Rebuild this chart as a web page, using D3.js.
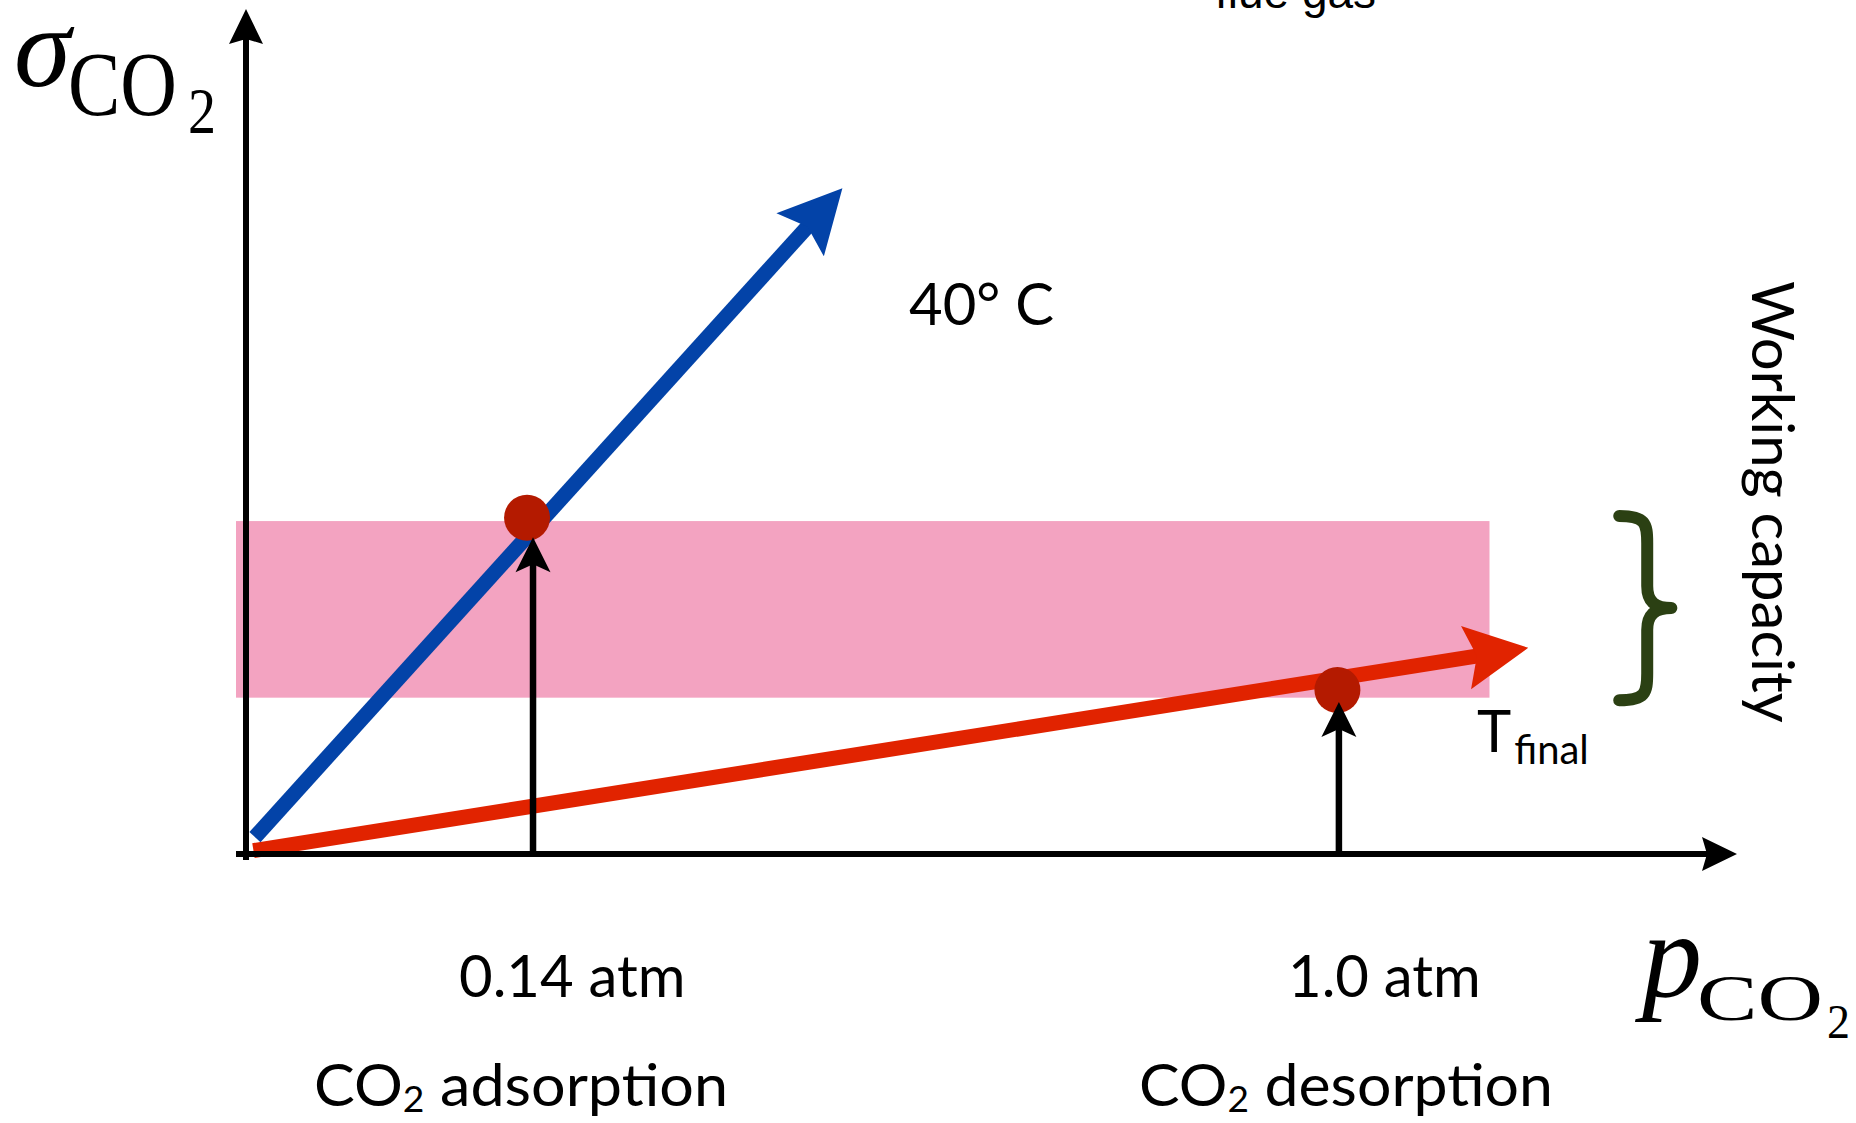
<!DOCTYPE html>
<html><head><meta charset="utf-8">
<script src="https://cdn.jsdelivr.net/npm/d3@7"></script>
<style>html,body{margin:0;padding:0;background:#fff;overflow:hidden}</style>
</head><body>
<svg id="chart" width="1856" height="1123"></svg>
<script>
// ---- schematic data (abstract units 0–100 on both axes) ----
const isothermNames  = ["40° C", "T_final"];
const isothermStart  = [[0.6, 2.0], [0.5, 0.4]];
const isothermEnd    = [[40.0, 78.8], [86.0, 24.4]];
const isothermColors = ["#0343a8", "#e12300"];
const pressureLabels = ["0.14 atm", "1.0 atm"];
const processLabels  = ["adsorption", "desorption"];
const pressureX      = [19.25, 73.3];
const uptakeArrowTip = [37.5, 18.0];
const stateX         = [18.85, 73.2];
const stateY         = [39.8, 19.4];
const bandX          = [-0.67, 83.4];
const bandY          = [18.5, 39.4];
const braceX         = [92.1, 96.0];
const braceY         = [17.6, 40.6];
const axisStart      = [-0.67, -0.7];
const axisEnd        = [100, 100];

const svg = d3.select("#chart");
const x = d3.scaleLinear().domain([0, 100]).range([246, 1737]);
const y = d3.scaleLinear().domain([0, 100]).range([854, 9]);

function arrow(g, x1, y1, x2, y2, color, sw, L, W, notch) {
  const dx = x2 - x1, dy = y2 - y1, len = Math.hypot(dx, dy);
  const ux = dx / len, uy = dy / len;
  const back = L - notch - 1;
  g.append("line")
    .attr("x1", x1).attr("y1", y1)
    .attr("x2", x2 - ux * back).attr("y2", y2 - uy * back)
    .attr("stroke", color).attr("stroke-width", sw);
  const ang = Math.atan2(dy, dx) * 180 / Math.PI;
  g.append("path")
    .attr("d", `M0,0 L${-L},${-W/2} L${-L+notch},0 L${-L},${W/2} Z`)
    .attr("fill", color)
    .attr("transform", `translate(${x2},${y2}) rotate(${ang})`);
}

// pink working-capacity band
svg.append("rect")
  .attr("x", x(bandX[0])).attr("y", y(bandY[1]))
  .attr("width", x(bandX[1]) - x(bandX[0]))
  .attr("height", y(bandY[0]) - y(bandY[1]))
  .attr("fill", "#f3a3c1");

// isotherms
const iso = svg.append("g");
isothermNames.forEach((n, i) => {
  arrow(iso, x(isothermStart[i][0]), y(isothermStart[i][1]),
        x(isothermEnd[i][0]), y(isothermEnd[i][1]),
        isothermColors[i], 15, 63, 64, 11);
});

// axes
const ax = svg.append("g");
arrow(ax, x(0), y(axisStart[1]), x(0), y(axisEnd[1]), "#000", 6, 35, 34, 5);
arrow(ax, x(axisStart[0]), y(0), x(axisEnd[0]), y(0), "#000", 6, 35, 34, 5);

// state points
svg.selectAll("circle.state").data(stateX).join("circle")
  .attr("class", "state")
  .attr("cx", (d) => x(d)).attr("cy", (d, i) => y(stateY[i]))
  .attr("r", 23).attr("fill", "#b41a00");

// vertical arrows
const va = svg.append("g");
pressureX.forEach((px, i) => {
  arrow(va, x(px), y(0), x(px), y(uptakeArrowTip[i]), "#000", 6.5, 35, 35, 8);
});

// brace
const bx0 = x(braceX[0]), bx1 = x(braceX[1]);
const bt = y(braceY[1]), bb = y(braceY[0]), bm = (bt + bb) / 2;
const bxm = bx0 + 28;
svg.append("path")
  .attr("d", `M${bx0},${bt+5} C${bxm-2},${bt+5} ${bxm},${bt+12} ${bxm},${bt+32}
              L${bxm},${bm-22} C${bxm},${bm-6} ${bxm+8},${bm} ${bx1-6},${bm}
              C${bxm+8},${bm} ${bxm},${bm+6} ${bxm},${bm+22}
              L${bxm},${bb-32} C${bxm},${bb-12} ${bxm-2},${bb-5} ${bx0},${bb-5}`)
  .attr("fill", "none").attr("stroke", "#2b4013").attr("stroke-width", 12)
  .attr("stroke-linecap", "round").attr("stroke-linejoin", "round");

const sans = "Lato, 'Open Sans', sans-serif";
const serif = "'Liberation Serif', 'Times New Roman', Times, serif";

// isotherm labels
svg.append("text").attr("x", 909).attr("y", 325)
  .attr("font-family", sans).attr("font-size", 58).text(isothermNames[0]);
const tf = svg.append("text").attr("x", 1477).attr("y", 752)
  .attr("font-family", sans).attr("font-size", 58);
tf.append("tspan").text("T");
tf.append("tspan").attr("font-size", 40).attr("dx", 3).attr("dy", 12).text("final");

// pressure labels & process labels
const labX = [459, 1288], procX = [314, 1139];
pressureLabels.forEach((t, i) => {
  svg.append("text").attr("x", labX[i]).attr("y", 997)
    .attr("font-family", sans).attr("font-size", 58).text(t);
  const pt = svg.append("text").attr("x", procX[i]).attr("y", 1106)
    .attr("font-family", sans).attr("font-size", 59)
    .attr("textLength", 414).attr("lengthAdjust", "spacingAndGlyphs");
  pt.append("tspan").text("CO");
  pt.append("tspan").attr("font-size", 36).attr("dy", 6).text("2");
  pt.append("tspan").attr("dy", -6).text(" " + processLabels[i]);
});

// working capacity
svg.append("text")
  .attr("transform", "translate(1752,281) rotate(90)")
  .attr("font-family", sans).attr("font-size", 58)
  .text("Working capacity");

// flue gas (cut at top, as in the original)
svg.append("text").attr("x", 1215).attr("y", 8)
  .attr("font-family", "'Liberation Sans', Arial, sans-serif").attr("font-size", 46)
  .text("flue gas");

// axis titles
svg.append("text").attr("x", 14).attr("y", 86)
  .attr("font-family", serif).attr("font-style", "italic").attr("font-size", 115).text("σ");
svg.append("text").attr("x", 68).attr("y", 115)
  .attr("font-family", serif).attr("font-size", 90)
  .attr("textLength", 109).attr("lengthAdjust", "spacingAndGlyphs").text("CO");
svg.append("text").attr("x", 188).attr("y", 133)
  .attr("font-family", serif).attr("font-size", 66)
  .attr("textLength", 28).attr("lengthAdjust", "spacingAndGlyphs").text("2");

svg.append("text").attr("x", 1642).attr("y", 996)
  .attr("font-family", serif).attr("font-style", "italic").attr("font-size", 120).text("p");
svg.append("text").attr("x", 1697).attr("y", 1020)
  .attr("font-family", serif).attr("font-size", 65)
  .attr("textLength", 126).attr("lengthAdjust", "spacingAndGlyphs").text("CO");
svg.append("text").attr("x", 1827).attr("y", 1038)
  .attr("font-family", serif).attr("font-size", 49)
  .attr("textLength", 23).attr("lengthAdjust", "spacingAndGlyphs").text("2");
</script>
</body></html>
